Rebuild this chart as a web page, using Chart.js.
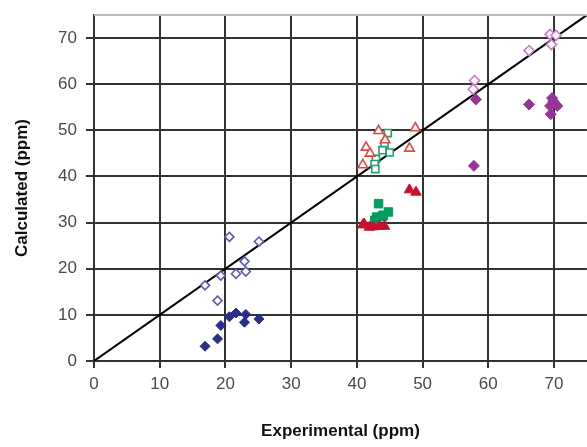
<!DOCTYPE html>
<html>
<head>
<meta charset="utf-8">
<script src="https://cdn.jsdelivr.net/npm/chart.js@4"></script>
<style>
  html, body { margin: 0; padding: 0; background: #fff; overflow: hidden; width: 587px; height: 447px; }
  canvas { display: block; }
</style>
</head>
<body>
<canvas id="chart" width="594" height="447"></canvas>
<script>
  // experimental vs calculated
  var blueFilledX = [16.9, 18.8, 19.3, 20.6, 21.6, 23.1, 22.9, 25.1];
  var blueFilledY = [3.2, 4.8, 7.7, 9.6, 10.4, 10.1, 8.4, 9.1];
  var blueOpenX = [20.6, 25.1, 22.9, 23.1, 21.6, 19.3, 16.9, 18.8];
  var blueOpenY = [26.9, 25.9, 21.6, 19.4, 18.9, 18.5, 16.4, 13.1];

  var redOpenX = [43.3, 48.9, 44.3, 41.4, 42.0, 48.0, 40.9];
  var redOpenY = [49.9, 50.5, 47.9, 46.3, 45.0, 46.1, 42.5];
  var redFilledX = [48.0, 49.0, 41.1, 41.9, 43.4, 44.2, 40.9, 42.5];
  var redFilledY = [37.1, 36.6, 29.7, 29.0, 29.2, 29.2, 29.5, 29.1];

  var greenOpenX = [44.7, 44.2, 43.9, 45.0, 42.9, 42.7, 42.8];
  var greenOpenY = [49.4, 47.0, 45.7, 45.2, 43.8, 42.7, 41.6];
  var greenFilledX = [43.3, 43.0, 43.9, 44.8, 44.0, 42.7];
  var greenFilledY = [34.1, 31.2, 31.3, 32.3, 31.6, 30.5];

  var purpleOpenX = [69.4, 70.3, 69.6, 66.2, 57.9, 57.7];
  var purpleOpenY = [70.8, 70.6, 68.6, 67.3, 60.8, 58.9];
  var purpleFilledX = [58.1, 66.2, 69.7, 69.4, 70.5, 69.5, 57.8, 69.9];
  var purpleFilledY = [56.7, 55.6, 57.0, 55.3, 55.3, 53.5, 42.3, 56.3];

  var lineX = [0, 75];
  var lineY = [0, 75];

  function pts(xs, ys) {
    var out = [];
    for (var i = 0; i < xs.length; i++) {
      out.push({ x: xs[i], y: ys[i] });
    }
    return out;
  }

  function series(xs, ys, shape, r, color, filled) {
    return {
      data: pts(xs, ys),
      pointStyle: shape,
      pointRadius: r,
      pointBackgroundColor: filled ? color : '#ffffff',
      pointBorderColor: color,
      pointBorderWidth: filled ? 1 : 1.6,
      showLine: false
    };
  }

  // light grey line along the top of the plot
  var topBorder = {
    id: 'topBorder',
    afterDraw: function (chart) {
      var a = chart.chartArea, ctx = chart.ctx;
      ctx.save();
      ctx.strokeStyle = '#bbbbbb';
      ctx.lineWidth = 2;
      ctx.beginPath();
      ctx.moveTo(a.left, a.top);
      ctx.lineTo(a.right, a.top);
      ctx.stroke();
      ctx.restore();
    }
  };

  // no tick at the max=75 end
  var dropEnd = function (s) {
    s.ticks = s.ticks.filter(function (t) { return t.value <= 70; });
  };

  new Chart(document.getElementById('chart').getContext('2d'), {
    type: 'scatter',
    data: {
      datasets: [
        {
          data: pts(lineX, lineY),
          showLine: true,
          borderColor: '#000000',
          borderWidth: 2,
          pointRadius: 0,
          fill: false,
          order: 10
        },
        series(blueOpenX, blueOpenY, 'rectRot', 4.5, '#5a5ab4', false),
        series(blueFilledX, blueFilledY, 'rectRot', 5, '#2b2f8c', true),
        series(redOpenX, redOpenY, 'triangle', 5.5, '#e04848', false),
        series(greenOpenX, greenOpenY, 'rect', 5, '#1fa070', false),
        series(redFilledX, redFilledY, 'triangle', 6, '#c8102e', true),
        series(greenFilledX, greenFilledY, 'rect', 6, '#009c60', true),
        series(purpleOpenX, purpleOpenY, 'rectRot', 5, '#c47cc4', false),
        series(purpleFilledX, purpleFilledY, 'rectRot', 5.5, '#993399', true)
      ]
    },
    options: {
      responsive: false,
      animation: false,
      layout: { padding: { top: 15, right: 0, left: 0, bottom: 0 } },
      plugins: { legend: { display: false }, tooltip: { enabled: false } },
      scales: {
        x: {
          type: 'linear',
          position: 'bottom',
          min: 0,
          max: 75,
          afterBuildTicks: dropEnd,
          afterFit: function (s) {
            s.height = 86;
            s.paddingLeft = 0;
            s.paddingRight = 0;
          },
          ticks: {
            stepSize: 10,
            includeBounds: false,
            color: '#4a4a4a',
            padding: 6,
            maxRotation: 0,
            font: { family: 'Liberation Sans, Arial, sans-serif', size: 17 }
          },
          grid: { color: '#333333', lineWidth: 2, tickLength: 7 },
          border: { color: '#333333', width: 2 },
          title: {
            display: true,
            text: 'Experimental (ppm)',
            color: '#111111',
            padding: { top: 0, bottom: 5 },
            font: { family: 'Liberation Sans, Arial, sans-serif', size: 17, weight: 'bold' }
          }
        },
        y: {
          type: 'linear',
          position: 'left',
          min: 0,
          max: 75,
          afterBuildTicks: dropEnd,
          afterFit: function (s) {
            s.width = 94;
            s.paddingTop = 0;
            s.paddingBottom = 0;
          },
          ticks: {
            stepSize: 10,
            includeBounds: false,
            color: '#4a4a4a',
            padding: 9,
            font: { family: 'Liberation Sans, Arial, sans-serif', size: 17 }
          },
          grid: { color: '#333333', lineWidth: 2, tickLength: 8 },
          border: { color: '#333333', width: 2 },
          title: {
            display: true,
            text: 'Calculated (ppm)',
            color: '#111111',
            padding: { top: 12, bottom: 0 },
            font: { family: 'Liberation Sans, Arial, sans-serif', size: 17, weight: 'bold' }
          }
        }
      }
    },
    plugins: [topBorder]
  });
</script>
</body>
</html>
